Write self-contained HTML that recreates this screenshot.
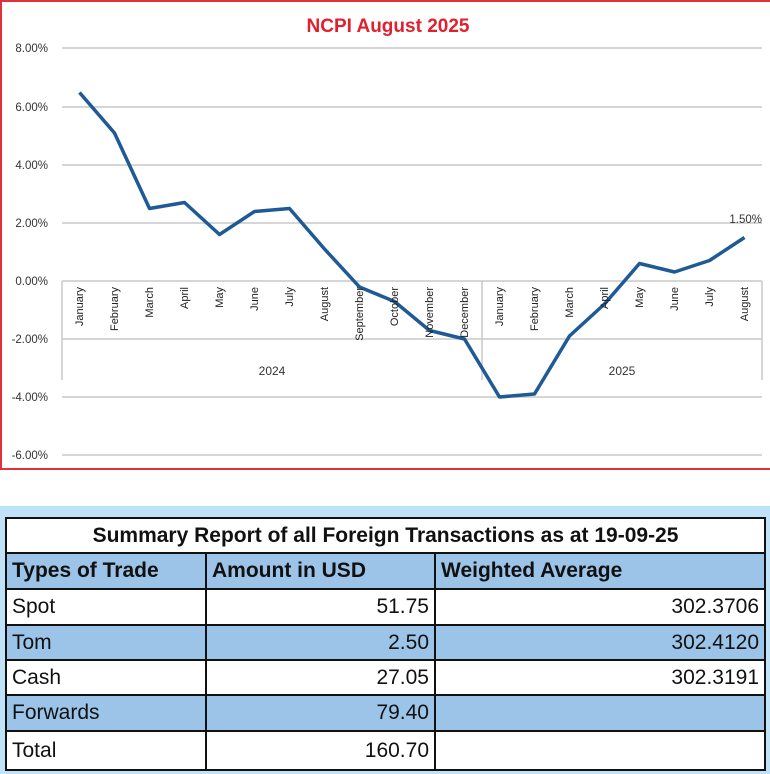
<!DOCTYPE html>
<html><head><style>
body{margin:0;width:770px;height:774px;background:#fff;overflow:hidden;font-family:"Liberation Sans",sans-serif;position:relative}
#bg{position:absolute;left:0;top:506px;width:770px;height:268px;background:#bfe2f9}
table{position:absolute;left:5px;top:517px;border-collapse:collapse;width:761px}
td{border:2px solid #111;padding:0 5px;font-size:21px;color:#111;height:33px;white-space:nowrap;background:#fff}
tr.b td{background:#9cc4e8}
.r{text-align:right}
.h td{font-weight:bold}
</style></head><body>
<svg width="770" height="480" style="position:absolute;left:0;top:0" font-family="Liberation Sans, sans-serif">
<g stroke="#e0323c" stroke-width="2"><line x1="0" x2="770" y1="1" y2="1"/><line x1="1" x2="1" y1="0" y2="470"/><line x1="0" x2="770" y1="469" y2="469"/></g>
<text x="388" y="32" text-anchor="middle" font-size="19" font-weight="bold" fill="#e0202c">NCPI August 2025</text>
<g stroke="#c8c8c8" stroke-width="1.5">
<line x1="62" x2="762" y1="48" y2="48"/><line x1="62" x2="762" y1="107" y2="107"/>
<line x1="62" x2="762" y1="165" y2="165"/><line x1="62" x2="762" y1="223" y2="223"/>
<line x1="62" x2="762" y1="281" y2="281"/><line x1="62" x2="762" y1="339" y2="339"/>
<line x1="62" x2="762" y1="397" y2="397"/><line x1="62" x2="762" y1="455" y2="455"/>
<line x1="62" x2="62" y1="281" y2="380"/><line x1="482" x2="482" y1="281" y2="380"/><line x1="762" x2="762" y1="281" y2="380"/>
</g>
<g font-size="11.5" fill="#333" text-anchor="end">
<text x="48" y="52">8.00%</text><text x="48" y="111">6.00%</text><text x="48" y="169">4.00%</text>
<text x="48" y="227">2.00%</text><text x="48" y="285">0.00%</text><text x="48" y="343">-2.00%</text>
<text x="48" y="401">-4.00%</text><text x="48" y="459">-6.00%</text>
</g>
<text x="272" y="375" font-size="12" fill="#333" text-anchor="middle">2024</text>
<text x="622" y="375" font-size="12" fill="#333" text-anchor="middle">2025</text>
<polyline fill="none" stroke="#1f5a96" stroke-width="3.5" stroke-linejoin="round" points="79.5,92.5 114.5,133 149.5,208.5 184.5,202.5 219.5,234.5 254.5,211.5 289.5,208.5 324.5,249 359.5,287 394.5,301.5 429.5,330.5 464.5,339 499.5,397 534.5,394 569.5,336 604.5,304 639.5,263.5 674.5,272 709.5,260.5 744.5,237.5"/>
<text x="762" y="223" font-size="11.5" fill="#333" text-anchor="end">1.50%</text>
<g font-size="11" fill="#222" text-anchor="end">
<text transform="translate(83,287) rotate(-90)">January</text>
<text transform="translate(118,287) rotate(-90)">February</text>
<text transform="translate(153,287) rotate(-90)">March</text>
<text transform="translate(188,287) rotate(-90)">April</text>
<text transform="translate(223,287) rotate(-90)">May</text>
<text transform="translate(258,287) rotate(-90)">June</text>
<text transform="translate(293,287) rotate(-90)">July</text>
<text transform="translate(328,287) rotate(-90)">August</text>
<text transform="translate(363,287) rotate(-90)">September</text>
<text transform="translate(398,287) rotate(-90)">October</text>
<text transform="translate(433,287) rotate(-90)">November</text>
<text transform="translate(468,287) rotate(-90)">December</text>
<text transform="translate(503,287) rotate(-90)">January</text>
<text transform="translate(538,287) rotate(-90)">February</text>
<text transform="translate(573,287) rotate(-90)">March</text>
<text transform="translate(608,287) rotate(-90)">April</text>
<text transform="translate(643,287) rotate(-90)">May</text>
<text transform="translate(678,287) rotate(-90)">June</text>
<text transform="translate(713,287) rotate(-90)">July</text>
<text transform="translate(748,287) rotate(-90)">August</text>
</g>
</svg>
<div id="bg"></div>
<table>
<tr class="h"><td colspan="3" style="text-align:center;height:33px">Summary Report of all Foreign Transactions as at 19-09-25</td></tr>
<tr class="h b"><td style="width:188px;height:34px">Types of Trade</td><td style="width:217px">Amount in USD</td><td>Weighted Average</td></tr>
<tr><td style="height:34px">Spot</td><td class="r">51.75</td><td class="r">302.3706</td></tr>
<tr class="b"><td>Tom</td><td class="r">2.50</td><td class="r">302.4120</td></tr>
<tr><td>Cash</td><td class="r">27.05</td><td class="r">302.3191</td></tr>
<tr class="b"><td style="height:34px">Forwards</td><td class="r">79.40</td><td></td></tr>
<tr><td style="height:37px">Total</td><td class="r">160.70</td><td></td></tr>
</table>
</body></html>
